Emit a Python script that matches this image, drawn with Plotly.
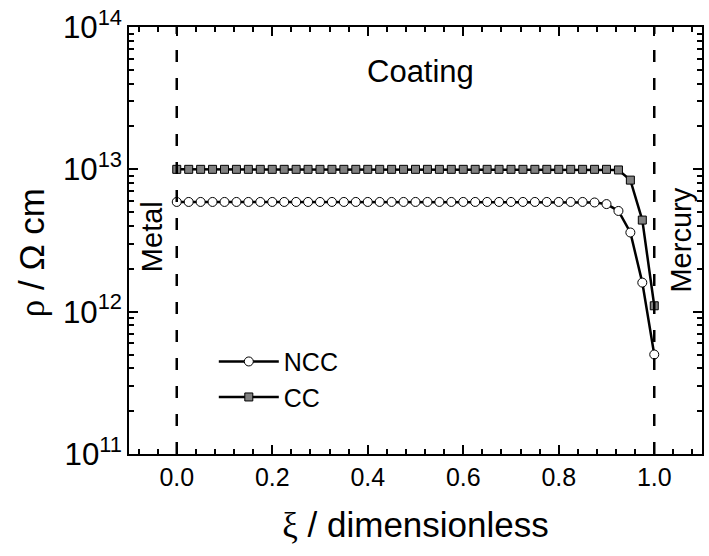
import plotly.graph_objects as go

# Dimensionless position across the coating (metal side = 0, mercury side = 1)
xi = [0.000, 0.025, 0.050, 0.075, 0.100, 0.125, 0.150, 0.175, 0.200, 0.225,
      0.250, 0.275, 0.300, 0.325, 0.350, 0.375, 0.400, 0.425, 0.450, 0.475,
      0.500, 0.525, 0.550, 0.575, 0.600, 0.625, 0.650, 0.675, 0.700, 0.725,
      0.750, 0.775, 0.800, 0.825, 0.850, 0.875, 0.900, 0.925, 0.950, 0.975,
      1.000]

# Resistivity profile, non-conducting coating (NCC), Ohm cm
rho_ncc = [5.9e12, 5.9e12, 5.9e12, 5.9e12, 5.9e12, 5.9e12, 5.9e12, 5.9e12, 5.9e12, 5.9e12,
           5.9e12, 5.9e12, 5.9e12, 5.9e12, 5.9e12, 5.9e12, 5.9e12, 5.9e12, 5.9e12, 5.9e12,
           5.9e12, 5.9e12, 5.9e12, 5.9e12, 5.9e12, 5.9e12, 5.9e12, 5.9e12, 5.9e12, 5.9e12,
           5.9e12, 5.9e12, 5.9e12, 5.9e12, 5.9e12, 5.85e12, 5.7e12, 5.1e12, 3.6e12, 1.6e12,
           5.0e11]

# Resistivity profile, conducting coating (CC), Ohm cm
rho_cc = [1.0e13, 1.0e13, 1.0e13, 1.0e13, 1.0e13, 1.0e13, 1.0e13, 1.0e13, 1.0e13, 1.0e13,
          1.0e13, 1.0e13, 1.0e13, 1.0e13, 1.0e13, 1.0e13, 1.0e13, 1.0e13, 1.0e13, 1.0e13,
          1.0e13, 1.0e13, 1.0e13, 1.0e13, 1.0e13, 1.0e13, 1.0e13, 1.0e13, 1.0e13, 1.0e13,
          1.0e13, 1.0e13, 1.0e13, 1.0e13, 1.0e13, 1.0e13, 1.0e13, 0.99e13, 8.4e12, 4.4e12,
          1.1e12]

x_ticks = [0.0, 0.2, 0.4, 0.6, 0.8, 1.0]
boundaries = [0.0, 1.0]

FONT = "Liberation Sans, Arial, sans-serif"
SERIF = "Liberation Serif"

fig = go.Figure()

fig.add_trace(go.Scatter(
    x=xi, y=rho_ncc, mode="lines+markers", name="NCC",
    line=dict(color="black", width=2.5),
    marker=dict(symbol="circle", size=9, color="white",
                line=dict(color="black", width=1)),
))
fig.add_trace(go.Scatter(
    x=xi, y=rho_cc, mode="lines+markers", name="CC",
    line=dict(color="black", width=2.5),
    marker=dict(symbol="square", size=8, color="#808080",
                line=dict(color="black", width=1)),
))

# Dashed boundaries: metal/coating and coating/mercury
for b in boundaries:
    fig.add_shape(type="line", xref="x", yref="paper", x0=b, x1=b, y0=0, y1=1,
                  line=dict(color="black", width=2.5, dash="12px,16px"))

fig.add_annotation(x=0.51, y=13.685, xref="x", yref="y", text="Coating",
                   showarrow=False, font=dict(size=31, color="black", family=FONT))
fig.add_annotation(x=-0.052, y=12.53, xref="x", yref="y", text="Metal", textangle=-90,
                   showarrow=False, font=dict(size=29, color="black", family=FONT))
fig.add_annotation(x=1.054, y=12.50, xref="x", yref="y", text="Mercury", textangle=-90,
                   showarrow=False, font=dict(size=29, color="black", family=FONT))

# y-axis title placed as an annotation so it can sit slightly below the axis centre
fig.add_annotation(x=-0.1687, y=0.471, xref="paper", yref="paper",
                   xanchor="center", yanchor="middle",
                   text=f"<span style='font-family:{SERIF}'>ρ</span> / Ω cm",
                   textangle=-90, showarrow=False,
                   font=dict(size=35, color="black", family=FONT))

axis_common = dict(
    showline=True, linecolor="black", linewidth=2, mirror="ticks",
    ticks="inside", tickcolor="black", tickwidth=2, ticklen=9,
    showgrid=False, zeroline=False,
    tickfont=dict(size=25, color="black", family=FONT),
)

fig.update_xaxes(
    range=[-0.1, 1.1], tickvals=x_ticks, tickformat=".1f",
    minor=dict(ticks="inside", dtick=0.04, tick0=0, ticklen=5,
               tickcolor="black", tickwidth=1.5),
    title=dict(text=f"<span style='font-family:{SERIF}'>ξ</span> / dimensionless",
               font=dict(size=35, color="black", family=FONT), standoff=22),
    **axis_common,
)
fig.update_yaxes(
    type="log", range=[11, 14], dtick=1, exponentformat="power",
    minor=dict(ticks="inside", dtick="D1", ticklen=5,
               tickcolor="black", tickwidth=1.5),
    **axis_common,
)

fig.update_layout(
    width=709, height=556,
    margin=dict(l=129, r=5, t=25, b=102),
    paper_bgcolor="white", plot_bgcolor="white",
    font=dict(family=FONT, color="black"),
    showlegend=True,
    legend=dict(x=0.148, y=0.27, xanchor="left", yanchor="top",
                bgcolor="rgba(0,0,0,0)", font=dict(size=25, color="black", family=FONT),
                itemwidth=60, tracegroupgap=0),
)

fig.write_html("out.html")
